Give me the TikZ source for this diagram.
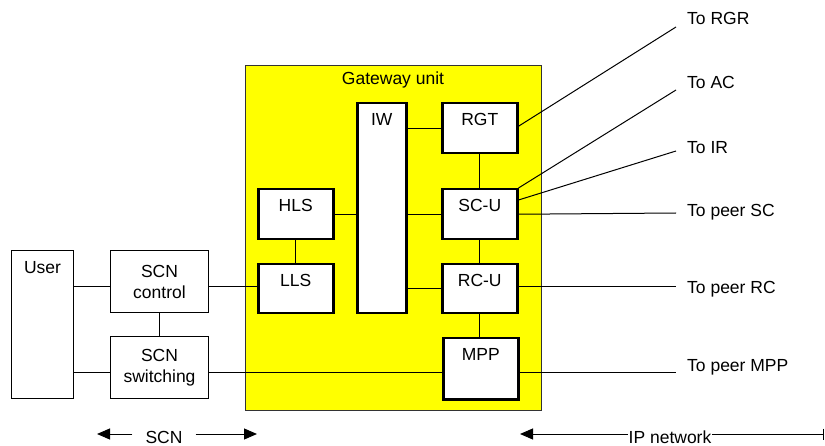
\documentclass[tikz,border=0pt]{standalone}
\usepackage{fontspec}
\setmainfont{Liberation Sans}
\usetikzlibrary{arrows.meta}
\definecolor{gwyellow}{RGB}{255,255,0}
\tikzset{
  base/.style={font=\fontsize{17.5}{21}\selectfont},
  outerbox/.style={base, draw, line width=1pt, fill=white, anchor=north west, inner sep=0pt, align=center},
  innerbox/.style={base, draw, line width=2.5pt, fill=white, anchor=north west, inner sep=0pt},
  toplabel/.style={label={[base, anchor=north, inner sep=0pt, yshift=-11pt]north:#1}},
  wire/.style={line width=1pt},
  ext/.style={base, anchor=base west, inner sep=0pt},
  tip/.style={-{Triangle[length=13pt,width=11pt]}}
}
\begin{document}
\begin{tikzpicture}[x=1pt,y=-1pt]
\useasboundingbox (0,0) rectangle (825,446);
% gateway
\node[draw=black!80, line width=1pt, fill=gwyellow, anchor=north west, minimum width=296pt, minimum height=345pt, inner sep=0pt] (gw) at (245,65) {};
\node[base, anchor=north, inner sep=0pt] (gwlbl) at (393,71.5) {Gateway unit};
% left boxes
\node[outerbox, minimum width=62pt, minimum height=148pt, toplabel=User] (user) at (11,250) {};
\node[outerbox, minimum width=98pt, minimum height=62pt] (scnc) at (110,250) {SCN\\control};
\node[outerbox, minimum width=98pt, minimum height=62pt] (scns) at (110,336) {SCN\\switching};
% inner boxes
\node[innerbox, minimum width=75pt, minimum height=50pt, toplabel=HLS] (hls) at (257,188) {};
\node[innerbox, minimum width=75pt, minimum height=49pt, toplabel=LLS] (lls) at (257,263) {};
\node[innerbox, minimum width=49pt, minimum height=210pt, toplabel=IW] (iw) at (356,102) {};
\node[innerbox, minimum width=75pt, minimum height=50pt, toplabel=RGT] (rgt) at (441,102) {};
\node[innerbox, minimum width=75pt, minimum height=50pt, toplabel=SC-U] (scu) at (441,188) {};
\node[innerbox, minimum width=75pt, minimum height=49pt, toplabel=RC-U] (rcu) at (441,263) {};
\node[innerbox, minimum width=75pt, minimum height=61pt, toplabel=MPP] (mpp) at (442,337) {};
% helper rows
\coordinate (rowC) at (0,287);
\coordinate (rowS) at (0,373);
% external ends
\coordinate (eRGR) at (676,27);
\coordinate (eAC) at (676,90);
\coordinate (eIR) at (676,151);
\coordinate (eSC) at (676,213);
\coordinate (eRC) at (676,287);
\coordinate (eMPP) at (676,373);
\node[ext] (lRGR) at (687,25) {To RGR};
\node[ext] (lAC) at (687,89) {To AC};
\node[ext] (lIR) at (687,154) {To IR};
\node[ext] (lSC) at (687,217) {To peer SC};
\node[ext] (lRC) at (687,294) {To peer RC};
\node[ext] (lMPP) at (687,371) {To peer MPP};
% wires left
\draw[wire] (user.east |- rowC) -- (scnc.west |- rowC);
\draw[wire] (user.east |- rowS) -- (scns.west |- rowS);
\draw[wire] (scnc.south) -- (scns.north);
\draw[wire] (scnc.east |- rowC) -- (lls.west |- rowC);
\draw[wire] (scns.east |- rowS) -- (mpp.west |- rowS);
% wires inside
\draw[wire] (hls.south) -- (lls.north);
\draw[wire] (hls.east) -- (iw.west |- hls.east);
\draw[wire] (iw.east |- rgt.west) -- (rgt.west);
\draw[wire] (iw.east |- scu.west) -- (scu.west);
\draw[wire] (iw.east |- rcu.west) -- (rcu.west);
\draw[wire] (rgt.south) -- (scu.north);
\draw[wire] (scu.south) -- (rcu.north);
\draw[wire] (rcu.south) -- (rcu.south |- mpp.north);
% wires right
\draw[wire] ([yshift=2pt]rgt.east) -- (eRGR);
\draw[wire] (scu.north east) -- (eAC);
\draw[wire] ([yshift=-12pt]scu.north east) -- (eIR);
\draw[wire] (scu.east) -- (eSC);
\draw[wire] (rcu.east |- rowC) -- (eRC);
\draw[wire] (mpp.east |- rowS) -- (eMPP);
% bottom arrows
\coordinate (scnL) at (97,434);
\coordinate (scnR) at (257,434);
\coordinate (ipL) at (520,434);
\coordinate (ipR) at (824,434);
\node[base, inner xsep=13pt, inner ysep=0pt] (scnlbl) at (164,437) {SCN};
\node[base, inner xsep=0.5pt, inner ysep=0pt] (iplbl) at (670,437) {IP network};
\draw[wire, tip] (scnlbl.west |- scnL) -- (scnL);
\draw[wire, tip] (scnlbl.east |- scnR) -- (scnR);
\draw[wire, tip] (iplbl.west |- ipL) -- (ipL);
\draw[wire, -{Bar[width=11pt]}] (iplbl.east |- ipR) -- (ipR);
\end{tikzpicture}
\end{document}
